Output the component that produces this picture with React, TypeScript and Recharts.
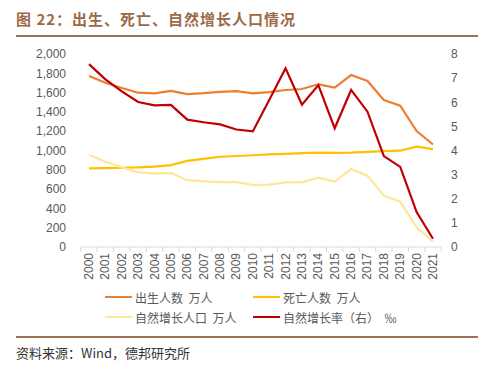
import { LineChart, Line, XAxis, YAxis } from "recharts"

const years = [
  "2000", "2001", "2002", "2003", "2004", "2005", "2006", "2007", "2008", "2009", "2010",
  "2011", "2012", "2013", "2014", "2015", "2016", "2017", "2018", "2019", "2020", "2021",
]
// 万人
const births = [1771, 1702, 1647, 1599, 1593, 1617, 1584, 1594, 1608, 1615, 1592, 1604, 1627, 1637, 1686, 1651, 1782, 1720, 1523, 1465, 1202, 1062]
const deaths = [814, 818, 821, 825, 832, 849, 892, 913, 935, 943, 951, 960, 966, 972, 977, 975, 977, 986, 993, 998, 1040, 1014]
const naturalGrowth = [957, 884, 826, 774, 761, 768, 692, 681, 673, 672, 641, 646, 670, 670, 718, 677, 808, 739, 532, 469, 204, 55]
// ‰
const growthRate = [7.58, 6.95, 6.45, 6.01, 5.87, 5.89, 5.28, 5.17, 5.08, 4.87, 4.79, 6.09, 7.41, 5.9, 6.71, 4.92, 6.51, 5.61, 3.77, 3.32, 1.45, 0.34]

const leftTicks = [0, 200, 400, 600, 800, 1000, 1200, 1400, 1600, 1800, 2000]
const rightTicks = [0, 1, 2, 3, 4, 5, 6, 7, 8]

const data = years.map((y, i) => ({
  year: y,
  births: births[i],
  deaths: deaths[i],
  natural: naturalGrowth[i],
  rate: growthRate[i],
}))

const series = [
  { key: "births", name: "出生人数  万人", color: "#ED7D31", axis: "left" },
  { key: "deaths", name: "死亡人数  万人", color: "#FFC000", axis: "left" },
  { key: "natural", name: "自然增长人口  万人", color: "#FFE699", axis: "left" },
  { key: "rate", name: "自然增长率（右）  ‰", color: "#C00000", axis: "right" },
]

const font = '"Noto Sans CJK SC", "Noto Sans", sans-serif'
const numFont = "Arial, Liberation Sans, sans-serif"
const half = 8.2

const XTick = ({ x, y, payload, index }: any) => (
  <g>
    <line x1={x - half} x2={x - half} y1={y} y2={y + 5} stroke="#d9d9d9" />
    {index === years.length - 1 && <line x1={x + half} x2={x + half} y1={y} y2={y + 5} stroke="#d9d9d9" />}
    <text
      transform={`translate(${x},${y + 6}) rotate(-90)`}
      textAnchor="end"
      dominantBaseline="central"
      fontSize={12}
      fill="#595959"
      fontFamily={numFont}
    >
      {payload.value}
    </text>
  </g>
)

export default function App() {
  return (
    <div style={{ position: "absolute", left: 0, top: 0, width: 502, height: 378, background: "#fff", fontFamily: font }}>
      <div style={{ position: "absolute", left: 16, top: 9, fontSize: 15, lineHeight: "20px", fontWeight: 700, color: "#9b6a48", letterSpacing: 1 }}>
        图 22：出生、死亡、自然增长人口情况
      </div>
      <div style={{ position: "absolute", left: 16, top: 35, width: 462, height: 2, background: "#9e7254" }} />

      <div style={{ position: "absolute", left: 0, top: 0 }}>
        <LineChart width={502} height={330} data={data} margin={{ top: 54, right: 0, left: 0, bottom: 0 }}>
          <XAxis
            dataKey="year"
            interval={0}
            height={83}
            padding={{ left: 8, right: 8 }}
            axisLine={{ stroke: "#d9d9d9" }}
            tickLine={false}
            tickSize={0}
            tickMargin={0}
            tick={<XTick />}
          />
          <YAxis
            yAxisId="left"
            width={81}
            domain={[0, 2000]}
            ticks={leftTicks}
            interval={0}
            axisLine={false}
            tickLine={false}
            tickSize={0}
            tickMargin={15}
            tick={{ fontSize: 12, fill: "#595959", fontFamily: numFont }}
            tickFormatter={(v: number) => v.toLocaleString("en-US")}
          />
          <YAxis
            yAxisId="right"
            orientation="right"
            width={61}
            domain={[0, 8]}
            ticks={rightTicks}
            interval={0}
            axisLine={false}
            tickLine={false}
            tickSize={0}
            tickMargin={10}
            tick={{ fontSize: 12, fill: "#595959", fontFamily: numFont }}
          />
          {series.map((s) => (
            <Line
              key={s.key}
              yAxisId={s.axis}
              dataKey={s.key}
              name={s.name}
              stroke={s.color}
              strokeWidth={2.2}
              dot={false}
              type="linear"
              isAnimationActive={false}
            />
          ))}
        </LineChart>
      </div>

      {series.map((s, i) => (
        <div
          key={s.key}
          style={{
            position: "absolute",
            left: i % 2 === 0 ? 105 : 253,
            top: i < 2 ? 288 : 308,
            height: 18,
            display: "flex",
            alignItems: "center",
            fontSize: 12,
            color: "#595959",
            whiteSpace: "pre",
          }}
        >
          <span style={{ display: "inline-block", width: 27, height: 2.5, background: s.color, marginRight: 3 }} />
          {s.name}
        </div>
      ))}

      <div style={{ position: "absolute", left: 16, top: 336, width: 462, height: 2, background: "#9e7254" }} />
      <div style={{ position: "absolute", left: 16, top: 344, fontSize: 13, lineHeight: "18px", color: "#333" }}>
        资料来源：Wind，德邦研究所
      </div>
    </div>
  )
}
